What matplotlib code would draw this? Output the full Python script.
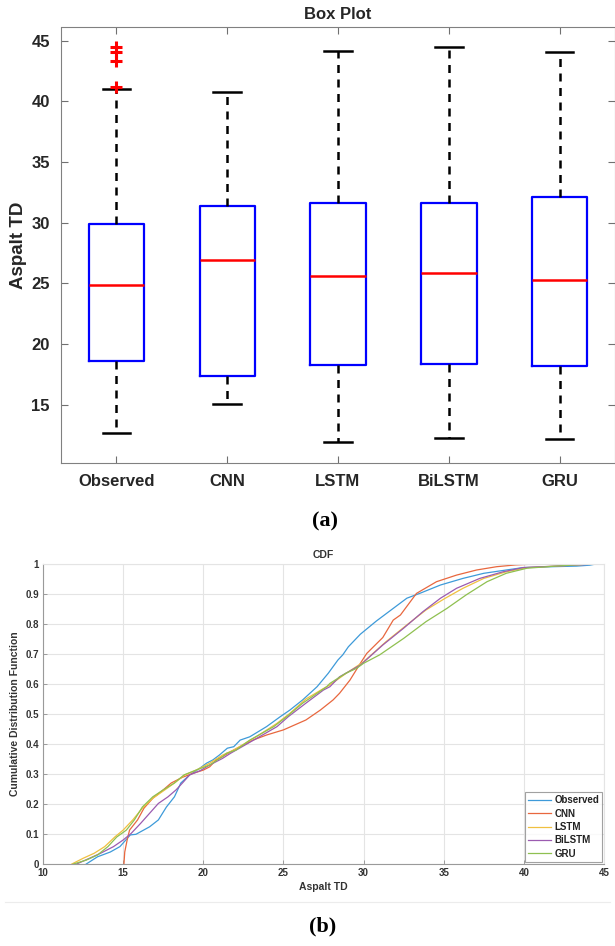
import matplotlib
matplotlib.use("Agg")
import matplotlib.pyplot as plt
from matplotlib.lines import Line2D

# ---------------- data ----------------
models = ["Observed", "CNN", "LSTM", "BiLSTM", "GRU"]

q1 = [18.6, 17.4, 18.3, 18.4, 18.2]
median = [24.9, 26.9, 25.6, 25.9, 25.3]
q3 = [29.9, 31.4, 31.6, 31.6, 32.1]
whisker_low = [12.7, 15.1, 11.9, 12.3, 12.2]
whisker_high = [41.0, 40.8, 44.2, 44.5, 44.1]
outliers_observed = [41.2, 43.3, 44.1, 44.5]

box_yticks = [15, 20, 25, 30, 35, 40, 45]

# empirical CDF knots (Aspalt TD, cumulative probability)
obs_x = [12.7, 13.4, 14.2, 14.8, 15.45, 15.8, 16.65, 17.2, 17.7, 18.2, 18.6, 19.15,
         19.8, 20.2, 20.6, 21.0, 21.5, 21.9, 22.3, 22.9, 23.95, 24.8, 25.4, 26.2,
         27.1, 27.8, 28.4, 28.7, 29.05, 29.8, 30.8, 31.85, 32.7, 33.5, 34.8, 36.2,
         37.5, 38.9, 39.95, 41.0, 43.3, 44.1, 44.5]
obs_f = [0.0, 0.024, 0.04, 0.058, 0.097, 0.099, 0.124, 0.147, 0.19, 0.224, 0.27, 0.297,
         0.32, 0.336, 0.347, 0.363, 0.386, 0.391, 0.413, 0.424, 0.458, 0.491, 0.513, 0.547,
         0.591, 0.636, 0.68, 0.697, 0.724, 0.766, 0.81, 0.852, 0.886, 0.902, 0.93, 0.952,
         0.969, 0.98, 0.988, 0.99, 0.993, 0.996, 1.0]

cnn_x = [15.05, 15.1, 15.25, 15.4, 15.9, 16.3, 16.85, 17.5, 18.0, 18.7, 19.35, 20.0,
         20.4, 20.8, 21.2, 21.9, 23.1, 23.95, 25.0, 26.4, 27.3, 28.1, 28.5, 29.15,
         29.8, 30.2, 31.2, 31.85, 32.3, 33.3, 34.55, 35.8, 37.05, 38.3, 39.5, 40.8]
cnn_f = [0.0, 0.04, 0.08, 0.113, 0.147, 0.186, 0.219, 0.247, 0.27, 0.289, 0.302, 0.313,
         0.324, 0.347, 0.358, 0.38, 0.413, 0.43, 0.447, 0.48, 0.513, 0.547, 0.569, 0.613,
         0.669, 0.702, 0.755, 0.813, 0.83, 0.902, 0.941, 0.963, 0.98, 0.991, 0.997, 1.0]

lstm_x = [11.8, 12.5, 13.2, 13.85, 14.5, 15.0, 15.6, 16.2, 16.85, 17.6, 18.2, 18.85,
          19.55, 20.4, 21.2, 21.9, 23.3, 24.6, 25.4, 26.4, 27.5, 27.9, 28.9, 30.0,
          31.4, 32.7, 33.9, 35.1, 36.2, 37.5, 38.9, 40.2, 42.0, 44.2]
lstm_f = [0.0, 0.019, 0.036, 0.058, 0.091, 0.113, 0.147, 0.186, 0.219, 0.247, 0.27, 0.297,
          0.313, 0.336, 0.363, 0.38, 0.424, 0.469, 0.502, 0.55, 0.585, 0.597, 0.635, 0.674,
          0.741, 0.797, 0.847, 0.886, 0.919, 0.952, 0.974, 0.988, 0.993, 1.0]

bilstm_x = [12.1, 12.9, 13.6, 14.4, 15.0, 15.5, 16.1, 16.65, 17.2, 17.8, 18.3, 18.7,
            19.15, 19.8, 20.4, 21.2, 21.7, 23.5, 24.6, 25.3, 26.4, 27.5, 27.9, 28.5,
            29.8, 31.2, 32.5, 33.7, 34.8, 35.8, 37.25, 38.7, 39.95, 42.0, 44.5]
bilstm_f = [0.0, 0.019, 0.036, 0.058, 0.08, 0.102, 0.136, 0.169, 0.202, 0.224, 0.247, 0.27,
            0.297, 0.311, 0.33, 0.352, 0.369, 0.424, 0.458, 0.491, 0.536, 0.58, 0.591, 0.624,
            0.663, 0.73, 0.786, 0.841, 0.886, 0.919, 0.952, 0.974, 0.988, 0.993, 1.0]

gru_x = [11.9, 12.7, 13.4, 14.05, 14.6, 15.2, 15.7, 16.2, 16.85, 17.5, 18.2, 18.8,
         19.55, 20.4, 21.2, 21.45, 22.05, 22.9, 24.4, 25.2, 26.2, 27.7, 27.9, 28.9,
         29.56, 30.0, 31.0, 32.5, 33.9, 35.2, 36.4, 37.7, 38.9, 40.2, 42.0, 44.1]
gru_f = [0.0, 0.013, 0.03, 0.058, 0.09, 0.113, 0.147, 0.19, 0.224, 0.247, 0.27, 0.297,
         0.313, 0.33, 0.358, 0.369, 0.38, 0.413, 0.458, 0.491, 0.536, 0.591, 0.602, 0.636,
         0.652, 0.669, 0.697, 0.752, 0.808, 0.852, 0.897, 0.941, 0.969, 0.986, 0.993, 1.0]

cdf_xticks = [10, 15, 20, 25, 30, 35, 40, 45]
cdf_yticks = [0, 0.1, 0.2, 0.3, 0.4, 0.5, 0.6, 0.7, 0.8, 0.9, 1]

# ---------------- styling ----------------
plt.rcParams["font.family"] = ["Liberation Sans", "DejaVu Sans"]
plt.rcParams["font.weight"] = "bold"
TXT = "#262626"
FIG_W, FIG_H = 615, 946

fig = plt.figure(figsize=(FIG_W / 100, FIG_H / 100), dpi=100)

# ---------------- (a) box plot ----------------
ax1 = fig.add_axes([61 / FIG_W, 1 - 463 / FIG_H, (FIG_W - 61) / FIG_W, (463 - 27.5) / FIG_H])
stats = []
for i, name in enumerate(models):
    stats.append(dict(label=name, med=median[i], q1=q1[i], q3=q3[i],
                      whislo=whisker_low[i], whishi=whisker_high[i],
                      fliers=outliers_observed if i == 0 else []))
ax1.bxp(stats, positions=range(1, len(models) + 1), widths=0.5, capwidths=0.25,
        boxprops=dict(color="#0000ff", linewidth=1.6),
        medianprops=dict(color="#ff0000", linewidth=1.8),
        whiskerprops=dict(color="black", linewidth=1.8, linestyle=(0, (3.2, 2.6))),
        capprops=dict(color="black", linewidth=1.8),
        flierprops=dict(marker="+", markeredgecolor="#ff0000", markersize=9,
                        markeredgewidth=2.2, linestyle="none"))
ax1.set_xlim(0.5, 5.5)
ax1.set_ylim(10.2, 46.1)
ax1.set_yticks(box_yticks)
ax1.tick_params(direction="in", length=5, width=0.8, color="#707070",
                top=True, right=True, labelsize=12, labelcolor=TXT, pad=8)
for lab in ax1.get_xticklabels() + ax1.get_yticklabels():
    lab.set_fontweight("bold")
for sp in ax1.spines.values():
    sp.set_color("#808080")
    sp.set_linewidth(0.8)
ax1.set_ylabel("Aspalt TD", fontsize=13.5, fontweight="bold", color=TXT, labelpad=3)
ax1.set_title("Box Plot", fontsize=12, fontweight="bold", color=TXT, pad=6)

fig.text(325 / FIG_W, 1 - 521 / FIG_H, "(a)", ha="center", va="center",
         family=["Liberation Serif", "DejaVu Serif"], fontweight="bold", fontsize=16,
         color="black")

# ---------------- (b) CDF ----------------
ax2 = fig.add_axes([43 / FIG_W, 1 - 864 / FIG_H, 561 / FIG_W, 300 / FIG_H])
series = [
    ("Observed", obs_x, obs_f, "#3d9ad9"),
    ("CNN", cnn_x, cnn_f, "#e8673e"),
    ("LSTM", lstm_x, lstm_f, "#f0c040"),
    ("BiLSTM", bilstm_x, bilstm_f, "#9b5bb0"),
    ("GRU", gru_x, gru_f, "#8fc050"),
]
for name, xs, fs, col in series:
    ax2.plot(xs, fs, color=col, linewidth=0.9, label=name)
ax2.set_xlim(10, 45)
ax2.set_ylim(0, 1)
ax2.set_xticks(cdf_xticks)
ax2.set_yticks(cdf_yticks)
ax2.set_yticklabels(["0", "0.1", "0.2", "0.3", "0.4", "0.5", "0.6", "0.7", "0.8", "0.9", "1"])
ax2.grid(True, color="#e4e4e4", linewidth=0.8)
ax2.set_axisbelow(True)
ax2.tick_params(direction="in", length=3, width=0.6, color="#909090",
                labelsize=7, labelcolor="#333333", pad=3)
for lab in ax2.get_xticklabels() + ax2.get_yticklabels():
    lab.set_fontweight("bold")
for side, sp in ax2.spines.items():
    sp.set_linewidth(0.8)
    sp.set_color("#9a9a9a" if side in ("left", "bottom") else "#e4e4e4")
ax2.set_xlabel("Aspalt TD", fontsize=7.5, fontweight="bold", color="#333333", labelpad=3)
ax2.set_ylabel("Cumulative Distribution Function", fontsize=7.5, fontweight="bold",
               color="#333333", labelpad=4)
ax2.set_title("CDF", fontsize=7.5, fontweight="bold", color="#333333", pad=4)
leg = ax2.legend(loc="lower right", bbox_to_anchor=(0.997, 0.006), borderaxespad=0,
                 fontsize=7, frameon=True, fancybox=False, edgecolor="#8a8a8a",
                 handlelength=2.4, handletextpad=0.3, labelspacing=0.35,
                 borderpad=0.35, prop=dict(weight="bold", size=7))
leg.get_frame().set_linewidth(0.8)
for t in leg.get_texts():
    t.set_color("#222222")

fig.text(323 / FIG_W, 1 - 926 / FIG_H, "(b)", ha="center", va="center",
         family=["Liberation Serif", "DejaVu Serif"], fontweight="bold", fontsize=16,
         color="black")

# thin separator under the CDF panel
fig.add_artist(Line2D([5 / FIG_W, 610 / FIG_W], [1 - 902 / FIG_H, 1 - 902 / FIG_H],
                      transform=fig.transFigure, color="#ececec", linewidth=0.8))

fig.savefig("out.png", dpi=100)
